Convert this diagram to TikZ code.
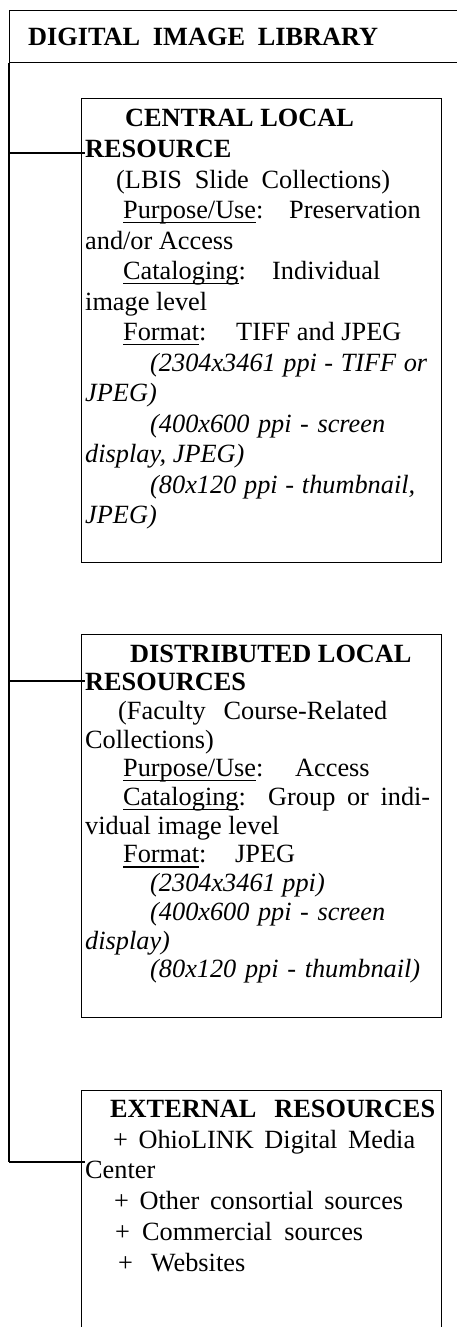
\documentclass[tikz,border=0pt]{standalone}
\usepackage{fontspec}
\setmainfont{Liberation Serif}
\usetikzlibrary{calc}
\newcommand\myul[1]{\setbox0\hbox{#1}\rlap{\rule[-4.6pt]{\wd0}{1.4pt}}\box0}
\newcommand\jl[2]{\makebox[#1pt][s]{#2}}
\tikzset{
 box/.style={draw, line width=1.3pt, anchor=north west, inner sep=0pt, minimum width=360pt},
 txt/.style={anchor=base west, inner sep=0pt, font=\fontsize{26.3}{30}\selectfont},
 trunk/.style={line width=1.2pt},
 branch/.style={line width=2.2pt},
}
\begin{document}
\begin{tikzpicture}[x=1pt,y=-1pt]
\useasboundingbox (0,0) rectangle (457,1327);
\fill[white] (0,0) rectangle (457,1327);
% header
\node[box, minimum width=471pt, minimum height=52pt] (hdr) at (9,10) {};
\node[txt] (hdrtext) at (28,46) {\bfseries\jl{350}{DIGITAL IMAGE LIBRARY}};
% boxes
\node[box, minimum height=464pt] (central) at (81,98) {};
\node[box, minimum height=383pt] (distrib) at (81,634) {};
\node[box, minimum height=260pt] (external) at (81,1090) {};
% connectors
\coordinate (j1) at (9,153);
\coordinate (j2) at (9,681);
\coordinate (j3) at (9,1162);
\draw[trunk] (hdr.south west) -- (j3);
\draw[branch] (j1) -- ($(central.west |- j1)+(4,0)$);
\draw[branch] (j2) -- ($(distrib.west |- j2)+(4,0)$);
\draw[branch] (j3) -- ($(external.west |- j3)+(4,0)$);
% central text
\node[txt] (c1) at (125,127) {\bfseries CENTRAL LOCAL};
\node[txt] (c2) at (85,157.5) {\bfseries RESOURCE};
\node[txt] (c3) at (116,188) {\jl{274}{(LBIS Slide Collections)}};
\node[txt] (c4) at (123,218.5) {\makebox[166pt][l]{\myul{Purpose/Use}:}Preservation};
\node[txt] (c5) at (85,249) {and/or Access};
\node[txt] (c6) at (123,279.5) {\makebox[149pt][l]{\myul{Cataloging}:}Individual};
\node[txt] (c7) at (85,310) {image level};
\node[txt] (c8) at (123,340.5) {\makebox[113pt][l]{\myul{Format}:}TIFF and JPEG};
\node[txt] (c9) at (150,371) {\itshape\jl{277}{(2304x3461 ppi - TIFF or}};
\node[txt] (c10) at (85,401.5) {\itshape JPEG)};
\node[txt] (c11) at (150,432) {\itshape\jl{235}{(400x600 ppi - screen}};
\node[txt] (c12) at (85,462.5) {\itshape display, JPEG)};
\node[txt] (c13) at (150,493) {\itshape\jl{265}{(80x120 ppi - thumbnail,}};
\node[txt] (c14) at (85,523.5) {\itshape JPEG)};
% distributed text
\node[txt] (d1) at (130,662) {\bfseries DISTRIBUTED LOCAL};
\node[txt] (d2) at (85,690.7) {\bfseries RESOURCES};
\node[txt] (d3) at (118,719.4) {\jl{269}{(Faculty Course-Related}};
\node[txt] (d4) at (85,748.1) {Collections)};
\node[txt] (d5) at (123,776.8) {\makebox[172pt][l]{\myul{Purpose/Use}:}Access};
\node[txt] (d6) at (123,805.5) {\makebox[145pt][l]{\myul{Cataloging}:}\jl{162}{Group or indi-}};
\node[txt] (d7) at (85,834.2) {vidual image level};
\node[txt] (d8) at (123,862.9) {\makebox[112pt][l]{\myul{Format}:}JPEG};
\node[txt] (d9) at (150,891.6) {\itshape (2304x3461 ppi)};
\node[txt] (d10) at (150,920.3) {\itshape\jl{235}{(400x600 ppi - screen}};
\node[txt] (d11) at (85,949) {\itshape display)};
\node[txt] (d12) at (150,977.7) {\itshape\jl{270}{(80x120 ppi - thumbnail)}};
% external text
\node[txt] (e1) at (110,1117) {\bfseries\jl{325}{EXTERNAL RESOURCES}};
\node[txt] (e2) at (113,1148) {\jl{302}{+ OhioLINK Digital Media}};
\node[txt] (e3) at (85,1178.5) {Center};
\node[txt] (e4) at (114,1209) {\jl{289}{+ Other consortial sources}};
\node[txt] (e5) at (115,1240) {\jl{248}{+ Commercial sources}};
\node[txt] (e6) at (118,1271) {\jl{127}{+ Websites}};
\end{tikzpicture}
\end{document}
